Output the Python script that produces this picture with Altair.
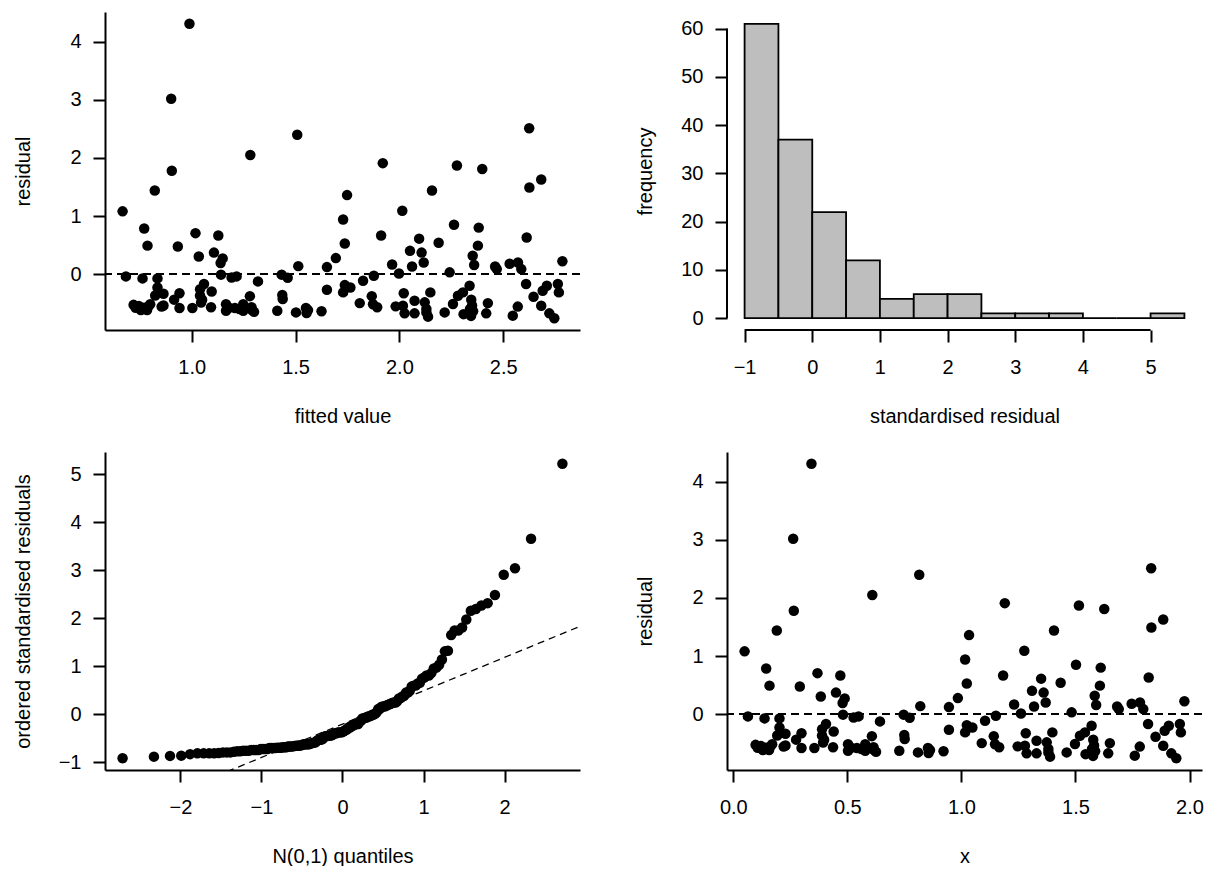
import altair as alt
import pandas as pd
import numpy as np
from statistics import NormalDist

# ---- values (top-left panel: fitted value vs residual) ----
fitted = [
    0.667, 0.683, 0.720, 0.745, 0.760, 0.770, 0.785, 0.800, 0.763, 0.771,
    0.787, 0.822, 0.835, 0.835, 0.824, 0.864, 0.864, 0.901, 0.904, 0.915,
    0.933, 0.941, 0.941, 0.989, 1.003, 1.018, 1.034, 1.040, 1.059, 1.040,
    1.045, 1.093, 1.096, 1.107, 1.128, 1.141, 1.149, 1.139, 1.165, 1.165,
    1.192, 1.216, 1.208, 1.248, 1.248, 1.280, 1.288, 1.300, 1.282, 1.319,
    1.412, 1.433, 1.462, 1.436, 1.438, 1.502, 1.508, 1.513, 1.550, 1.553,
    1.625, 1.651, 1.651, 1.694, 1.729, 1.737, 1.764, 1.729, 1.737, 1.748,
    1.809, 1.825, 1.877, 1.867, 1.873, 1.893, 1.912, 1.920, 1.965, 1.982,
    1.998, 2.014, 2.021, 2.017, 2.025, 2.051, 2.061, 2.073, 2.073, 2.095,
    2.107, 2.117, 2.122, 2.130, 2.138, 2.149, 2.157, 2.189, 2.218, 2.242,
    2.258, 2.263, 2.277, 2.282, 2.306, 2.309, 2.338, 2.346, 2.350, 2.355,
    2.345, 2.353, 2.360, 2.378, 2.382, 2.399, 2.426, 2.418, 2.461, 2.469,
    2.531, 2.571, 2.587, 2.546, 2.570, 2.610, 2.613, 2.625, 2.626, 2.646,
    2.683, 2.683, 2.690, 2.710, 2.722, 2.746, 2.763, 2.768, 2.785, 0.730,
    0.755, 0.790, 0.855, 1.050, 1.180, 1.230, 1.290, 2.340, 2.130, 1.560,
]
residual = [
    1.08, -0.04, -0.53, -0.55, -0.60, -0.58, -0.62, -0.52, -0.074, 0.785,
    0.49, 1.44, -0.074, -0.23, -0.37, -0.34, -0.54, 3.02, 1.78, -0.44,
    0.476, -0.33, -0.585, 4.31, -0.585, 0.705, 0.304, -0.26, -0.17, -0.37,
    -0.49, -0.57, -0.30, 0.37, 0.665, -0.01, 0.27, 0.19, -0.52, -0.63,
    -0.06, -0.04, -0.585, -0.52, -0.63, -0.38, -0.57, -0.65, 2.05, -0.126,
    -0.63, -0.01, -0.063, -0.36, -0.43, -0.66, 2.40, 0.137, -0.585, -0.67,
    -0.64, -0.27, 0.12, 0.275, -0.315, -0.19, -0.23, 0.94, 0.527, 1.36,
    -0.50, -0.115, -0.03, -0.38, -0.52, -0.57, 0.665, 1.91, 0.166, -0.556,
    0.01, 1.09, -0.33, -0.544, -0.676, 0.40, 0.13, -0.676, -0.458, 0.61,
    0.37, 0.20, -0.487, -0.66, -0.733, -0.315, 1.44, 0.54, -0.66, 0.03,
    -0.515, 0.85, 1.87, -0.372, -0.315, -0.69, -0.20, -0.44, -0.54, -0.64,
    -0.72, 0.315, 0.155, 0.49, 0.80, 1.81, -0.50, -0.676, 0.13, 0.086,
    0.178, 0.20, 0.086, -0.716, -0.56, -0.17, 0.63, 2.51, 1.49, -0.39,
    1.63, -0.544, -0.286, -0.20, -0.676, -0.76, -0.17, -0.315, 0.22, -0.58,
    -0.62, -0.56, -0.56, -0.44, -0.58, -0.60, -0.62, -0.60, -0.60, -0.62,
]

# model: fitted = B0 + B1 * x
B0 = 0.6126
B1 = 1.0985
SIGMA = 0.826

# histogram of standardised residuals (bin starts, width 0.5) and counts
hist_start = [-1.0, -0.5, 0.0, 0.5, 1.0, 1.5, 2.0, 2.5, 3.0, 3.5, 4.0, 4.5, 5.0]
hist_count = [61, 37, 22, 12, 4, 5, 5, 1, 1, 1, 0, 0, 1]
BIN_W = 0.5

FONT = "Liberation Sans"
W, H = 475, 318
LW = 2
PT = 110


def rpad(lo, hi):
    d = (hi - lo) * 0.04
    return [lo - d, hi + d]


def xaxis(title, values, fmt, domain=True):
    return alt.Axis(title=title, values=values, format=fmt, domain=domain, grid=False,
                    tickSize=12, labelPadding=15, titleY=92, titleBaseline="alphabetic",
                    labelFlush=False, labelOverlap=False)


def yaxis(title, values, domain=True):
    return alt.Axis(title=title, values=values, format="d", domain=domain, grid=False,
                    tickSize=12, labelPadding=12, titleX=-76, titleBaseline="alphabetic",
                    labelFlush=False, labelOverlap=False, labelAngle=0)


# ---------- panel 1: residual vs fitted ----------
df1 = pd.DataFrame({"fitted": fitted, "residual": residual})
xs1 = alt.Scale(domain=rpad(min(fitted), max(fitted)), nice=False, zero=False)
ys1 = alt.Scale(domain=rpad(min(residual), max(residual)), nice=False, zero=False)

pts1 = alt.Chart(df1).mark_circle(size=PT, color="black", opacity=1).encode(
    x=alt.X("fitted:Q", scale=xs1, axis=xaxis("fitted value", [1.0, 1.5, 2.0, 2.5], ".1f")),
    y=alt.Y("residual:Q", scale=ys1, axis=yaxis("residual", [0, 1, 2, 3, 4])),
)
zero1 = alt.Chart(df1).mark_rule(color="black", strokeWidth=1.6, strokeDash=[8, 5]).encode(
    y=alt.datum(0)
)
p1 = alt.layer(pts1, zero1).properties(width=W, height=H)

# ---------- panel 2: histogram ----------
dfh = pd.DataFrame({"start": hist_start, "count": hist_count})
dfh["end"] = dfh["start"] + BIN_W
hx_dom = rpad(min(hist_start), max(hist_start) + BIN_W)
hy_dom = rpad(0, max(hist_count))
xs2 = alt.Scale(domain=hx_dom, nice=False, zero=False)
ys2 = alt.Scale(domain=hy_dom, nice=False, zero=False)

bars = alt.Chart(dfh).mark_rect(fill="#BEBEBE", stroke="black", strokeWidth=1.8).encode(
    x=alt.X("start:Q", scale=xs2,
            axis=xaxis("standardised residual", [-1, 0, 1, 2, 3, 4, 5], "d", domain=False)),
    x2="end:Q",
    y=alt.Y("count:Q", scale=ys2,
            axis=yaxis("frequency", [0, 10, 20, 30, 40, 50, 60], domain=False)),
    y2=alt.datum(0),
)
xline = alt.Chart(pd.DataFrame({"a": [-1], "b": [5]})).mark_rule(
    color="black", strokeWidth=LW).encode(
    x="a:Q", x2="b:Q", y=alt.datum(hy_dom[0]))
yline = alt.Chart(pd.DataFrame({"a": [0], "b": [60]})).mark_rule(
    color="black", strokeWidth=LW).encode(
    y="a:Q", y2="b:Q", x=alt.datum(hx_dom[0]))
p2 = alt.layer(bars, xline, yline).properties(width=W, height=H)

# ---------- panel 3: normal QQ plot ----------
std = np.sort(np.array(residual) / SIGMA)
n = len(std)
nd = NormalDist()
q = np.array([nd.inv_cdf((i + 0.5) / n) for i in range(n)])
df3 = pd.DataFrame({"q": q, "s": std})
xs3_dom = rpad(q.min(), q.max())
ys3_dom = rpad(std.min(), std.max())
xs3 = alt.Scale(domain=xs3_dom, nice=False, zero=False)
ys3 = alt.Scale(domain=ys3_dom, nice=False, zero=False)

# reference line through the first and third quartiles
yq = np.quantile(std, [0.25, 0.75])
xq = np.array([nd.inv_cdf(0.25), nd.inv_cdf(0.75)])
slope = (yq[1] - yq[0]) / (xq[1] - xq[0])
icpt = yq[0] - slope * xq[0]
dfl = pd.DataFrame({"q": xs3_dom, "s": [icpt + slope * v for v in xs3_dom]})

pts3 = alt.Chart(df3).mark_circle(size=PT, color="black", opacity=1).encode(
    x=alt.X("q:Q", scale=xs3, axis=xaxis("N(0,1) quantiles", [-2, -1, 0, 1, 2], "d")),
    y=alt.Y("s:Q", scale=ys3,
            axis=yaxis("ordered standardised residuals", [-1, 0, 1, 2, 3, 4, 5])),
)
line3 = alt.Chart(dfl).mark_line(color="black", strokeWidth=1.3, strokeDash=[7, 5],
                                 clip=True).encode(x="q:Q", y="s:Q")
p3 = alt.layer(pts3, line3).properties(width=W, height=H)

# ---------- panel 4: residual vs x ----------
xcov = [(f - B0) / B1 for f in fitted]
df4 = pd.DataFrame({"x": xcov, "residual": residual})
xs4 = alt.Scale(domain=rpad(min(xcov), max(xcov)), nice=False, zero=False)
pts4 = alt.Chart(df4).mark_circle(size=PT, color="black", opacity=1).encode(
    x=alt.X("x:Q", scale=xs4, axis=xaxis("x", [0.0, 0.5, 1.0, 1.5, 2.0], ".1f")),
    y=alt.Y("residual:Q", scale=ys1, axis=yaxis("residual", [0, 1, 2, 3, 4])),
)
zero4 = alt.Chart(df4).mark_rule(color="black", strokeWidth=1.6, strokeDash=[8, 5]).encode(
    y=alt.datum(0)
)
p4 = alt.layer(pts4, zero4).properties(width=W, height=H)

chart = alt.concat(
    p1, p2, p3, p4, columns=2, spacing={"row": 122, "column": 147}, bounds="flush"
).properties(
    padding={"left": 5, "top": 4, "right": 5, "bottom": 0}
).configure_axis(
    labelFont=FONT, titleFont=FONT, labelFontSize=20, titleFontSize=20,
    titleFontWeight="normal", labelColor="black", titleColor="black",
    domainColor="black", tickColor="black", domainWidth=LW, tickWidth=LW,
).configure_view(strokeWidth=0)

chart.save("out.html", embed_options={"renderer": "svg", "actions": False})
